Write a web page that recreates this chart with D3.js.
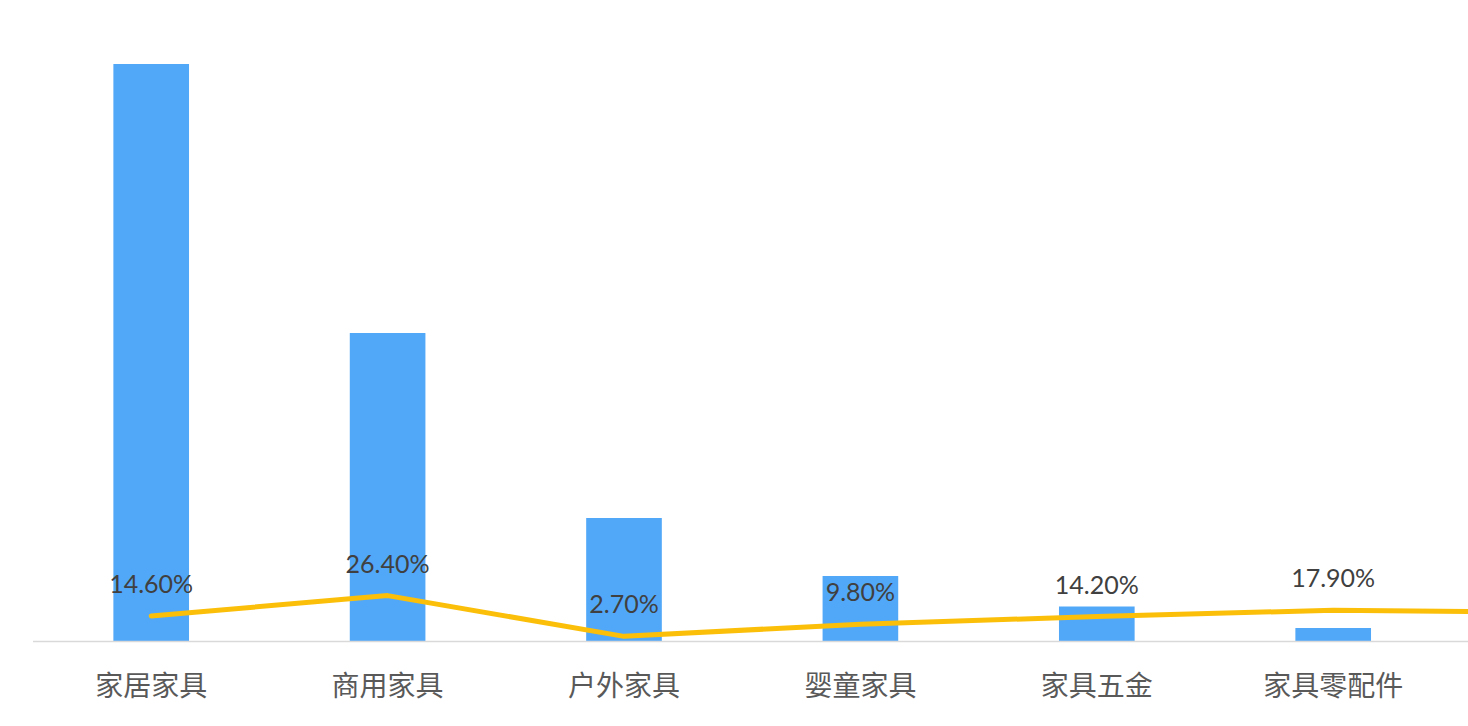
<!DOCTYPE html>
<html>
<head>
<meta charset="utf-8">
<script src="https://cdn.jsdelivr.net/npm/d3@7"></script>
<style>
  body { margin: 0; background: #fff; }
  svg { display: block; }
</style>
</head>
<body>
<div id="chart"></div>
<script>
"use strict";

// categories (the 7th one sits past the right edge, only its line point shows)
var categories = ["家居家具", "商用家具", "户外家具", "婴童家具", "家具五金", "家具零配件", "其他"];
// bar series (no axis shown, relative sizes)
var barValues = [5770, 3080, 1230, 650, 345, 130];
// line series, growth rate
var rateValues = [0.146, 0.264, 0.027, 0.098, 0.142, 0.179, 0.165];
var rateLabels = ["14.60%", "26.40%", "2.70%", "9.80%", "14.20%", "17.90%", ""];

var W = 1468, H = 726;
var baseY = 641, left = 33, step = 236.4;

var svg = d3.select("#chart").append("svg")
  .attr("width", W)
  .attr("height", H);

var x = d3.scaleBand()
  .domain(categories)
  .range([left, left + step * categories.length])
  .paddingInner(0.68)
  .paddingOuter(0.34);

var yBar = d3.scaleLinear().domain([0, 5770]).range([baseY, 64]);
var yLine = d3.scaleLinear().domain([0, 0.3]).range([baseY, baseY - 51.6]);

// bars
svg.append("g").selectAll("rect")
  .data(barValues)
  .enter().append("rect")
  .attr("x", function (d, i) { return x(categories[i]); })
  .attr("y", function (d) { return yBar(d); })
  .attr("width", x.bandwidth())
  .attr("height", function (d) { return baseY - yBar(d); })
  .attr("fill", "#52a8f8");

// baseline
svg.append("line")
  .attr("x1", left).attr("x2", W)
  .attr("y1", baseY + 0.5).attr("y2", baseY + 0.5)
  .attr("stroke", "#d9d9d9")
  .attr("stroke-width", 1.5);

// category labels, only the ones inside the picture
svg.append("g").selectAll("text")
  .data(categories.slice(0, barValues.length))
  .enter().append("text")
  .attr("x", function (d) { return x(d) + x.bandwidth() / 2; })
  .attr("y", 696)
  .attr("text-anchor", "middle")
  .attr("font-family", "'Noto Sans CJK SC', sans-serif")
  .attr("font-size", 28)
  .attr("fill", "#595959")
  .text(function (d) { return d; });

// rate line
var line = d3.line()
  .x(function (d, i) { return x(categories[i]) + x.bandwidth() / 2; })
  .y(function (d) { return yLine(d); });

svg.append("path")
  .datum(rateValues)
  .attr("d", line)
  .attr("fill", "none")
  .attr("stroke", "#fbbf0a")
  .attr("stroke-width", 5)
  .attr("stroke-linecap", "round")
  .attr("stroke-linejoin", "round");

// rate labels
svg.append("g").selectAll("text")
  .data(rateValues.slice(0, barValues.length))
  .enter().append("text")
  .attr("x", function (d, i) { return x(categories[i]) + x.bandwidth() / 2; })
  .attr("y", function (d) { return yLine(d) - 23; })
  .attr("text-anchor", "middle")
  .attr("font-family", "Lato, 'Noto Sans', sans-serif")
  .attr("font-size", 25)
  .attr("fill", "#404040")
  .text(function (d, i) { return rateLabels[i]; });
</script>
</body>
</html>
